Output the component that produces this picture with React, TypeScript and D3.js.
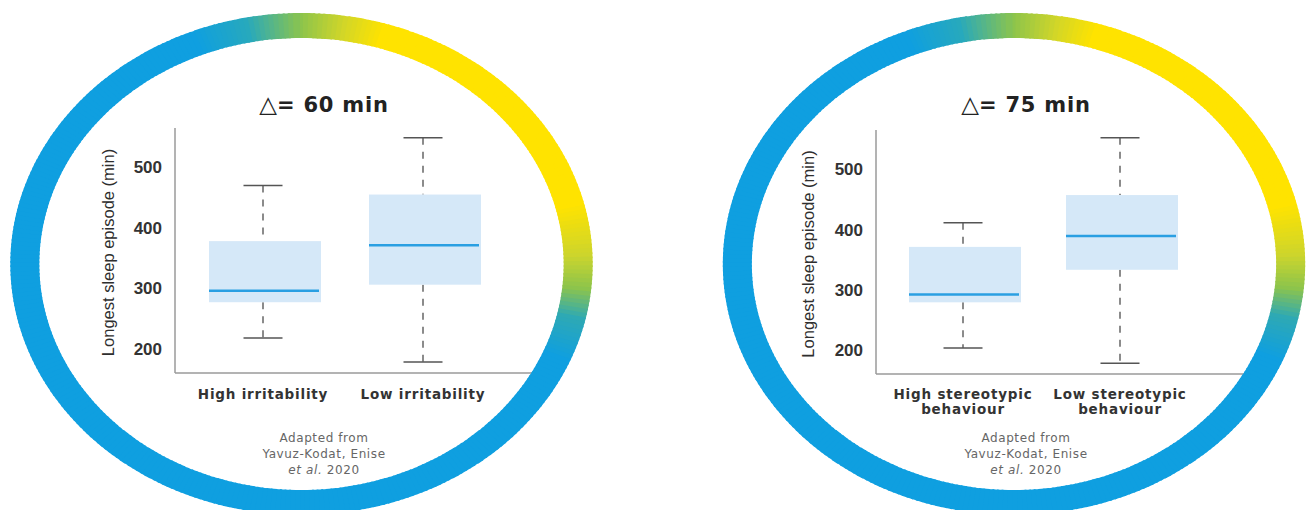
import React from "react";
import * as d3 from "d3";

// ---------- data ----------
const leftCategories = [["High irritability"], ["Low irritability"]];
const leftMin = [218, 178];
const leftQ1 = [277, 306];
const leftMedian = [296, 371];
const leftQ3 = [378, 455];
const leftMax = [470, 549];
const leftDelta = "60";

const rightCategories = [["High stereotypic", "behaviour"], ["Low stereotypic", "behaviour"]];
const rightMin = [203, 178];
const rightQ1 = [279, 333];
const rightMedian = [292, 389];
const rightQ3 = [371, 457];
const rightMax = [411, 552];
const rightDelta = "75";

const yTicks = [200, 300, 400, 500];
const yDomain = [160, 565];
const yAxisTitle = "Longest sleep episode (min)";
const sourceLines = ["Adapted from", "Yavuz-Kodat, Enise"];

// ---------- ring gradient ----------
const BLUE = "#0f9fe0";
const YELLOW = "#ffe300";
const ringStops: [number, string][] = [
  [-180, BLUE],
  [-22, BLUE],
  [-11, "#27a9bd"],
  [0, "#8cc44c"],
  [9, "#d2d628"],
  [17, YELLOW],
  [76, YELLOW],
  [88, "#cdd52c"],
  [96, "#8cc44c"],
  [103, "#2ea9b4"],
  [113, BLUE],
  [180, BLUE],
];
function ringColor(a: number) {
  const ang = a > 180 ? a - 360 : a;
  for (let i = 0; i < ringStops.length - 1; i++) {
    const [a0, c0] = ringStops[i];
    const [a1, c1] = ringStops[i + 1];
    if (ang >= a0 && ang <= a1) {
      return d3.interpolateRgb(c0, c1)((ang - a0) / (a1 - a0));
    }
  }
  return BLUE;
}

function Ring({ cx, cy }: { cx: number; cy: number }) {
  const arc = d3.arc<any>().innerRadius(226).outerRadius(251);
  const segs = d3.range(0, 360, 1);
  return (
    <g transform={`translate(${cx},${cy}) scale(1.16,1)`}>
      {segs.map((a) => (
        <path
          key={a}
          d={arc({ startAngle: ((a - 0.7) * Math.PI) / 180, endAngle: ((a + 0.7) * Math.PI) / 180 }) || ""}
          fill={ringColor(a)}
        />
      ))}
    </g>
  );
}

type PanelProps = {
  categories: string[][];
  mins: number[];
  q1s: number[];
  medians: number[];
  q3s: number[];
  maxs: number[];
  delta: string;
  axisX: number;
  axisTop: number;
  axisBottom: number;
  axisRight: number;
  centers: [number, number];
  ringCx: number;
  ringCy: number;
  titleX: number;
  yLabelX: number;
};

const arialFont = "'Liberation Sans', Arial, sans-serif";
const wideFont = "'DejaVu Sans', Verdana, sans-serif";

function Panel(p: PanelProps) {
  const y = d3.scaleLinear().domain(yDomain).range([p.axisBottom, p.axisTop]);
  const keys = p.categories.map((c) => c.join(" "));
  const x = d3.scalePoint<string>().domain(keys).range(p.centers);
  const boxW = 112;
  const capW = 39;
  const midY = (p.axisTop + p.axisBottom) / 2 + 2;
  return (
    <g>
      {/* title */}
      <text x={p.titleX} y={112} textAnchor="middle" fontSize={21} fill="#222" fontFamily={wideFont} fontWeight={700}>
        <tspan fontWeight={400} fontSize={23}>△</tspan>
        <tspan letterSpacing={0.8}>= {p.delta} min</tspan>
      </text>
      {/* axes */}
      <line x1={p.axisX} x2={p.axisX} y1={p.axisTop} y2={p.axisBottom} stroke="#9a9a9a" strokeWidth={1.5} />
      <line x1={p.axisX} x2={p.axisRight} y1={p.axisBottom} y2={p.axisBottom} stroke="#9a9a9a" strokeWidth={1.5} />
      {yTicks.map((t) => (
        <text key={t} x={p.axisX - 13} y={y(t)} dy="0.36em" textAnchor="end" fontSize={17} fontWeight={700} fill="#333" fontFamily={arialFont}>
          {t}
        </text>
      ))}
      <text
        transform={`translate(${p.yLabelX},${midY}) rotate(-90)`}
        textAnchor="middle"
        dy="0.36em"
        fontSize={16.5}
        fill="#2e2e2e"
        fontFamily={arialFont}
      >
        {yAxisTitle}
      </text>
      {/* boxes */}
      {keys.map((k, i) => {
        const cx = x(k)!;
        return (
          <g key={k}>
            <line x1={cx} x2={cx} y1={y(p.maxs[i])} y2={y(p.q3s[i])} stroke="#666" strokeWidth={1.5} strokeDasharray="7,7" />
            <line x1={cx} x2={cx} y1={y(p.q1s[i])} y2={y(p.mins[i])} stroke="#666" strokeWidth={1.5} strokeDasharray="7,7" />
            <line x1={cx - capW / 2} x2={cx + capW / 2} y1={y(p.maxs[i])} y2={y(p.maxs[i])} stroke="#555" strokeWidth={1.5} />
            <line x1={cx - capW / 2} x2={cx + capW / 2} y1={y(p.mins[i])} y2={y(p.mins[i])} stroke="#555" strokeWidth={1.5} />
            <rect x={cx - boxW / 2 + 2} y={y(p.q3s[i])} width={boxW} height={y(p.q1s[i]) - y(p.q3s[i])} fill="#d5e8f8" />
            <line x1={cx - boxW / 2 + 2} x2={cx + boxW / 2} y1={y(p.medians[i])} y2={y(p.medians[i])} stroke="#2a9fe2" strokeWidth={2.5} />
            {p.categories[i].map((line, j) => (
              <text key={j} x={cx} y={399 + j * 15} textAnchor="middle" fontSize={13.5} fontWeight={700} letterSpacing={0.8} fill="#333" fontFamily={wideFont}>
                {line}
              </text>
            ))}
          </g>
        );
      })}
      {/* source */}
      <text textAnchor="middle" fontSize={12} letterSpacing={0.6} fill="#666" fontFamily={wideFont}>
        <tspan x={p.titleX} y={442}>{sourceLines[0]}</tspan>
        <tspan x={p.titleX} y={458}>{sourceLines[1]}</tspan>
        <tspan x={p.titleX} y={474}>
          <tspan fontStyle="italic">et al.</tspan> 2020
        </tspan>
      </text>
      <Ring cx={p.ringCx} cy={p.ringCy} />
    </g>
  );
}

export default function App() {
  return (
    <svg width={1312} height={510} style={{ position: "absolute", left: 0, top: 0, background: "#fff" }}>
      <rect width={1312} height={510} fill="#fff" />
      <Panel
        categories={leftCategories}
        mins={leftMin}
        q1s={leftQ1}
        medians={leftMedian}
        q3s={leftQ3}
        maxs={leftMax}
        delta={leftDelta}
        axisX={175}
        axisTop={128}
        axisBottom={373}
        axisRight={540}
        centers={[263, 423]}
        ringCx={301.5}
        ringCy={264}
        titleX={324}
        yLabelX={108}
      />
      <Panel
        categories={rightCategories}
        mins={rightMin}
        q1s={rightQ1}
        medians={rightMedian}
        q3s={rightQ3}
        maxs={rightMax}
        delta={rightDelta}
        axisX={876}
        axisTop={130}
        axisBottom={374}
        axisRight={1250}
        centers={[963, 1120]}
        ringCx={1014}
        ringCy={264}
        titleX={1026}
        yLabelX={808}
      />
    </svg>
  );
}
